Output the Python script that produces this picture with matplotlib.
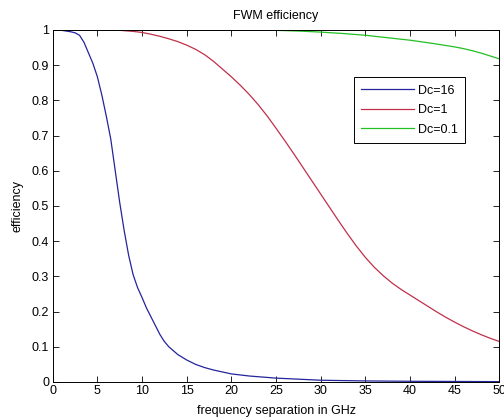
import matplotlib
matplotlib.use('Agg')
import matplotlib.pyplot as plt

plt.rcParams['font.family'] = ['Liberation Sans', 'DejaVu Sans']

# values
freq_16 = [0, 1, 2, 2.5, 3, 3.5, 4, 4.5, 5, 5.5, 6, 6.5, 7, 7.5, 8, 8.5, 9, 9.5, 10, 10.5,
           11, 11.5, 12, 12.5, 13, 14, 15, 16, 17, 18, 20, 22, 25, 30, 35, 40, 45, 50]
eff_16 = [1.0, 0.999, 0.995, 0.992, 0.985, 0.965, 0.935, 0.905, 0.867, 0.815, 0.755, 0.69,
          0.60, 0.51, 0.43, 0.36, 0.305, 0.268, 0.24, 0.21, 0.185, 0.16, 0.135, 0.115, 0.100,
          0.078, 0.0625, 0.05, 0.041, 0.034, 0.023, 0.017, 0.011, 0.005, 0.003, 0.002,
          0.0015, 0.001]

freq_1 = [0, 5, 7, 8, 9, 10, 11, 12, 13, 14, 15, 16, 17, 18, 19, 20, 21, 22, 23, 24, 25,
          26, 27, 28, 29, 30, 31, 32, 33, 34, 35, 36, 37, 38, 39, 40, 41, 42, 43, 44, 45,
          46, 47, 48, 49, 50]
eff_1 = [1.0, 1.0, 1.0, 0.998, 0.996, 0.993, 0.988, 0.982, 0.975, 0.967, 0.957, 0.945,
         0.93, 0.911, 0.889, 0.867, 0.843, 0.817, 0.788, 0.756, 0.721, 0.685, 0.648, 0.61,
         0.572, 0.534, 0.496, 0.458, 0.421, 0.386, 0.354, 0.326, 0.302, 0.281, 0.263, 0.247,
         0.231, 0.215, 0.199, 0.184, 0.170, 0.157, 0.145, 0.134, 0.124, 0.115]

freq_01 = [0, 10, 20, 22, 25, 27.5, 30, 32.5, 35, 37.5, 40, 42.5, 45, 46, 47, 48, 49, 50]
eff_01 = [1.0, 1.0, 1.0, 1.0, 0.999, 0.997, 0.994, 0.99, 0.985, 0.978, 0.971, 0.962, 0.952,
          0.947, 0.941, 0.934, 0.926, 0.918]

labels = ['Dc=16', 'Dc=1', 'Dc=0.1']
colors = ['#24249c', '#c0304a', '#22c022']

fig = plt.figure(figsize=(5.04, 4.2), dpi=100)
ax = fig.add_axes([0.1046, 0.0905, 0.8861, 0.8381])

ax.plot(freq_16, eff_16, color=colors[0], lw=0.9, label=labels[0])
ax.plot(freq_1, eff_1, color=colors[1], lw=0.9, label=labels[1])
ax.plot(freq_01, eff_01, color=colors[2], lw=0.9, label=labels[2])

ax.set_xlim(0, 50)
ax.set_ylim(0, 1)
ax.set_xticks(range(0, 51, 5))
ax.set_yticks([i / 10 for i in range(11)])
ax.set_yticklabels(['0', '0.1', '0.2', '0.3', '0.4', '0.5', '0.6', '0.7', '0.8', '0.9', '1'])
ax.tick_params(direction='in', top=True, right=True, length=4, width=0.6,
               labelsize=9, pad=2.5)
for s in ax.spines.values():
    s.set_linewidth(0.7)

ax.set_title('FWM efficiency', fontsize=9, pad=8)
ax.set_xlabel('frequency separation in GHz', fontsize=9, labelpad=5.5)
ax.set_ylabel('efficiency', fontsize=9, labelpad=6)

leg = ax.legend(loc='upper right', bbox_to_anchor=(0.923, 0.866), fontsize=9,
                fancybox=False, framealpha=1, edgecolor='black', borderpad=0.6,
                handlelength=4.2, handletextpad=0.3, labelspacing=0.6, borderaxespad=0)
leg.get_frame().set_linewidth(0.7)

fig.savefig('out.png', dpi=100)
